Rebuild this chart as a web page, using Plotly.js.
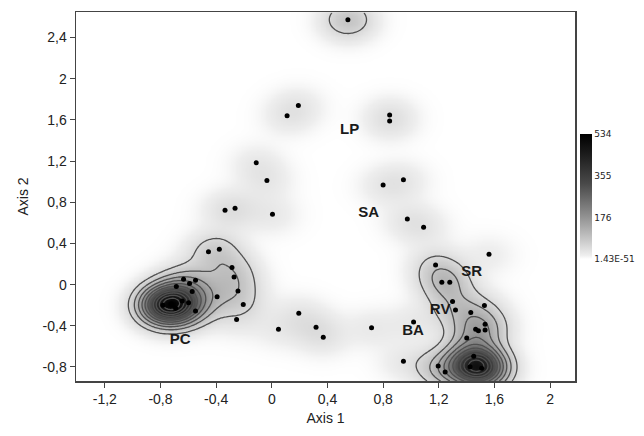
<!DOCTYPE html>
<html><head><meta charset="utf-8">
<script src="https://cdn.plot.ly/plotly-3.0.1.min.js"></script>
<style>body{margin:0;background:#fff}#chart{width:644px;height:436px}</style>
</head><body><div id="chart"></div>
<script>
// Observation points (Axis 1, Axis 2) and estimated number of overlapping observations
const pointX = [0.547,
  0.191, 0.110, 0.847, 0.847,
  -0.112, -0.035, 0.800, 0.946, -0.336, -0.264, 0.005, 0.974, 1.091,
  -0.455, -0.377, -0.286, -0.271, -0.243, -0.393, -0.205, -0.253, 0.048,
  -0.782, -0.722, -0.691, -0.686, -0.644, -0.634, -0.598, -0.591, -0.572, -0.548, -0.548,
  1.561, 1.177, 1.222, 1.279, 1.299, 1.320, 1.528, 1.430, 1.533, 1.465, 1.485, 1.533, 1.401,
  1.451, 1.196, 1.246, 1.425, 1.508,
  1.019, 0.946,
  0.194, 0.318, 0.370, 0.717];
const pointY = [2.572,
  1.740, 1.639, 1.646, 1.588,
  1.183, 1.011, 0.966, 1.017, 0.723, 0.742, 0.684, 0.636, 0.558,
  0.318, 0.344, 0.165, 0.075, -0.061, -0.117, -0.194, -0.340, -0.433,
  -0.200, -0.185, -0.229, -0.019, -0.158, 0.052, -0.175, 0.010, -0.068, 0.043, -0.256,
  0.295, 0.191, 0.023, 0.023, -0.165, -0.246, -0.204, -0.272, -0.385, -0.433, -0.447, -0.440, -0.518,
  -0.696, -0.790, -0.848, -0.797, -0.812,
  -0.362, -0.744,
  -0.278, -0.414, -0.511, -0.418];
const pointCount = [3.9,
  1, 1, 1, 1,
  1, 1, 1, 1, 1, 1, 1, 1, 1,
  1.6, 1.6, 1.6, 1.5, 1.5, 1.5, 1.1, 0.8, 0.8,
  11, 6, 4, 1, 2.5, 1, 1.5, 1, 1, 1, 1,
  0.8, 2.1, 2, 2, 1.3, 1.3, 0.8, 1.3, 1.3, 1.3, 1.3, 1.3, 1.3,
  4, 2, 2, 6, 13,
  1, 1,
  1, 1, 1, 1];

const labelText = ['LP', 'SA', 'SR', 'RV', 'BA', 'PC'];
const labelX = [0.559, 0.697, 1.437, 1.210, 1.015, -0.658];
const labelY = [1.503, 0.694, 0.117, -0.245, -0.457, -0.537];

const xTickVals = [-1.2, -0.8, -0.4, 0, 0.4, 0.8, 1.2, 1.6, 2];
const xTickText = ['-1,2', '-0,8', '-0,4', '0', '0,4', '0,8', '1,2', '1,6', '2'];
const yTickVals = [-0.8, -0.4, 0, 0.4, 0.8, 1.2, 1.6, 2, 2.4];
const yTickText = ['-0,8', '-0,4', '0', '0,4', '0,8', '1,2', '1,6', '2', '2,4'];

const densityMax = 534;
const densityTickVals = [0, 176, 355, 534];
const densityTickText = ['1.43E-51', '176', '355', '534'];

// ---- kernel density of the observations on a grid ----
const xRange = [-1.407, 2.179], yRange = [-0.936, 2.647];
const bw = 0.13, firstLevel = 2.3, levelStep = 2.0;
const step = 0.012;
const gx = [], gy = [];
for (let v = xRange[0]; v <= xRange[1] + 1e-9; v += step) gx.push(v);
for (let v = yRange[0]; v <= yRange[1] + 1e-9; v += step) gy.push(v);
const raw = gy.map(yy => gx.map(xx => {
  let s = 0;
  for (let i = 0; i < pointX.length; i++) {
    const dx = xx - pointX[i], dy = yy - pointY[i];
    s += pointCount[i] * Math.exp(-(dx * dx + dy * dy) / (2 * bw * bw));
  }
  return s;
}));
let rmax = 0;
raw.forEach(r => r.forEach(v => { if (v > rmax) rmax = v; }));
const k = densityMax / rmax;
const z = raw.map(r => r.map(v => v * k));

const heat = {
  type: 'heatmap', x: gx, y: gy, z: z, zmin: 0, zmax: densityMax, zsmooth: 'best',
  colorscale: [[0, '#ffffff'], [0.03, '#eeeeee'], [0.12, '#d2d2d2'], [0.35, '#8e8e8e'], [0.6, '#4a4a4a'], [0.85, '#1a1a1a'], [1, '#000000']],
  hoverinfo: 'skip',
  colorbar: {
    x: 1.01, xanchor: 'left', xpad: 0, y: 0.5, yanchor: 'middle', ypad: 0,
    thickness: 12, thicknessmode: 'pixels', len: 125, lenmode: 'pixels',
    outlinewidth: 0, ticks: '', tickvals: densityTickVals, ticktext: densityTickText,
    tickfont: {family: 'DejaVu Sans', size: 9, color: '#222'}
  }
};
const lines = {
  type: 'contour', x: gx, y: gy, z: z, showscale: false, hoverinfo: 'skip',
  contours: {coloring: 'none', start: firstLevel * k, end: rmax * k, size: levelStep * k},
  line: {color: '#505050', width: 1.3, smoothing: 1}
};
const pts = {
  type: 'scatter', mode: 'markers', x: pointX, y: pointY,
  marker: {color: '#000', size: 5}, hoverinfo: 'skip'
};
const labs = {
  type: 'scatter', mode: 'text', x: labelX, y: labelY, text: labelText,
  textposition: 'middle center',
  textfont: {family: 'Liberation Sans', size: 15, color: '#1a1a1a', weight: 'bold'}, hoverinfo: 'skip'
};

const axisCommon = {
  showgrid: false, zeroline: false, showline: true, linecolor: '#444', linewidth: 1.5, mirror: true,
  ticks: 'outside', ticklen: 5, tickcolor: '#444', tickwidth: 1,
  tickfont: {family: 'Liberation Sans', size: 14, color: '#222'}
};
const layout = {
  width: 644, height: 436, margin: {l: 76, r: 67, t: 12, b: 55},
  paper_bgcolor: '#fff', plot_bgcolor: '#fff', showlegend: false,
  xaxis: Object.assign({}, axisCommon, {range: xRange, tickvals: xTickVals, ticktext: xTickText,
    title: {text: 'Axis 1', font: {family: 'Liberation Sans', size: 14, color: '#222'}, standoff: 7}}),
  yaxis: Object.assign({}, axisCommon, {range: yRange, tickvals: yTickVals, ticktext: yTickText,
    title: {text: 'Axis 2', font: {family: 'Liberation Sans', size: 14, color: '#222'}, standoff: 10}})
};
Plotly.newPlot('chart', [heat, lines, pts, labs], layout, {displayModeBar: false, staticPlot: true});
</script></body></html>
